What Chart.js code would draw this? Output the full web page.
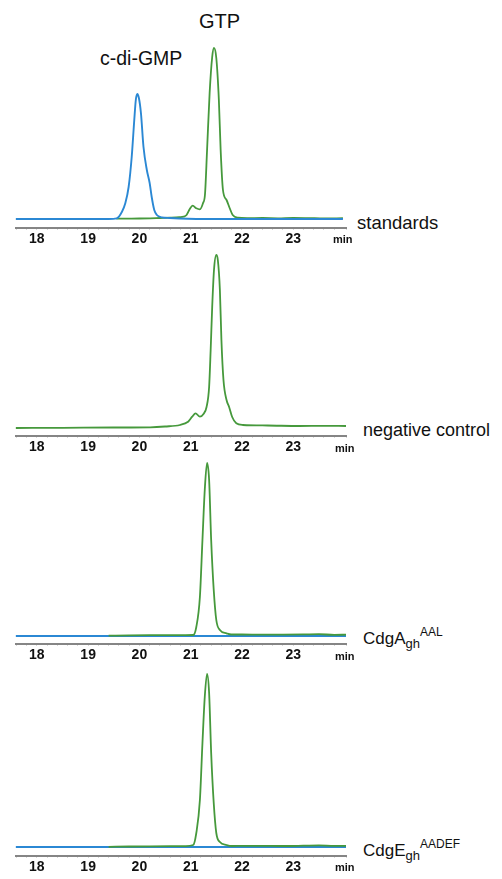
<!DOCTYPE html>
<html>
<head>
<meta charset="utf-8">
<script src="https://cdn.jsdelivr.net/npm/chart.js@4/dist/chart.umd.min.js"></script>
<style>
  body { margin: 0; background: #fff; width: 502px; height: 879px; position: relative; overflow: hidden;
         font-family: "Liberation Sans", Arial, sans-serif; color: #111; }
  canvas { position: absolute; left: 15px; }
  .lbl { position: absolute; white-space: nowrap; line-height: 1; }
  .min { position: absolute; font-size: 11px; font-weight: bold; line-height: 1; }
  .sub { font-size: 13px; position: relative; top: 4px; }
  .sup { font-size: 12px; position: relative; top: -8px; }
</style>
</head>
<body>
<div class="lbl" style="left:199px; top:11px; font-size:20px;">GTP</div>
<div class="lbl" style="left:100px; top:49px; font-size:19.5px;">c-di-GMP</div>

<canvas id="chart1" width="332" height="208" style="top:44px"></canvas>
<canvas id="chart2" width="332" height="208" style="top:252px"></canvas>
<canvas id="chart3" width="332" height="208" style="top:460px"></canvas>
<canvas id="chart4" width="332" height="208" style="top:672px"></canvas>

<div class="lbl" style="left:357px; top:214px; font-size:18.5px;">standards</div>
<div class="lbl" style="left:363px; top:421px; font-size:18px;">negative control</div>
<div class="lbl" style="left:363px; top:630px; font-size:17px;">CdgA<span class="sub">gh</span><span class="sup">AAL</span></div>
<div class="lbl" style="left:363px; top:842px; font-size:17px;">CdgE<span class="sub">gh</span><span class="sup">AADEF</span></div>

<div class="min" style="left:333px; top:234px;">min</div>
<div class="min" style="left:335px; top:443px;">min</div>
<div class="min" style="left:335px; top:651px;">min</div>
<div class="min" style="left:335px; top:862px;">min</div>

<script>
//------------------------------ data (retention time in min, signal above baseline) -----------------

// panel 1, standards
const stdCdgTime   = [17.59, 19.40, 19.56, 19.66, 19.725, 19.79, 19.85, 19.90, 19.93, 19.96, 19.99, 20.03, 20.08, 20.145, 20.20, 20.24, 20.29, 20.34, 20.44, 20.59, 20.78, 21.5, 22.5, 23.97];
const stdCdgSignal = [0, 0, 0.7, 7.3, 15.7, 32, 62, 99, 119, 125, 121, 106, 72, 49, 36, 22, 9, 4, 1.7, 1, 0.5, 0, 0, 0];

const stdGtpTime   = [19.55, 19.8, 20.0, 20.21, 20.40, 20.60, 20.78, 20.86, 20.92, 20.98, 21.04, 21.11, 21.18, 21.24, 21.28, 21.32, 21.37, 21.42, 21.455, 21.50, 21.55, 21.585, 21.63, 21.70, 21.76, 21.82, 21.92, 22.1, 22.4, 22.7, 23.0, 23.3, 23.6, 23.97];
const stdGtpSignal = [0.3, 0.4, 0.5, 0.7, 1.0, 1.3, 1.8, 2.3, 4.0, 9.7, 13.3, 10.7, 9.7, 15.7, 25, 69, 126, 162, 171, 161, 119, 69, 29, 19, 11, 4, 1.3, 0.8, 1.0, 0.7, 1.1, 0.9, 0.6, 0.8];

// panel 2, negative control
const negTime   = [17.59, 18.5, 19.5, 20.21, 20.5, 20.79, 20.95, 21.03, 21.095, 21.18, 21.25, 21.31, 21.36, 21.39, 21.42, 21.455, 21.50, 21.53, 21.57, 21.60, 21.64, 21.70, 21.75, 21.81, 21.89, 22.02, 22.5, 23.12, 23.6, 24.03];
const negSignal = [0, 0.2, 0.5, 0.7, 1.5, 3, 6.3, 11.3, 14.7, 11.3, 14, 21, 41, 78, 121, 158, 173, 168, 138, 88, 48, 28, 21, 11, 4.7, 3, 2.5, 2, 2.2, 2];

// panel 3, CdgA
const cdgAGreenTime   = [19.4, 19.8, 20.2, 20.6, 20.9, 21.05, 21.11, 21.18, 21.23, 21.275, 21.32, 21.36, 21.40, 21.45, 21.50, 21.57, 21.70, 21.79, 22.0, 22.4, 22.8, 23.2, 23.5, 23.8, 24.03];
const cdgAGreenSignal = [0.3, 0.6, 0.8, 0.9, 0.9, 1, 9, 39, 96, 146, 173, 156, 96, 46, 16, 6, 2.7, 1.5, 1.5, 1.3, 1.4, 1.6, 1.8, 1.2, 1.3];
const cdgABlueTime    = [17.59, 24.03];
const cdgABlueSignal  = [0, 0];

// panel 4, CdgE
const cdgEGreenTime   = [19.4, 19.8, 20.2, 20.6, 20.9, 21.05, 21.11, 21.18, 21.23, 21.275, 21.32, 21.36, 21.40, 21.45, 21.50, 21.57, 21.70, 21.80, 22.0, 22.4, 22.8, 23.2, 23.5, 23.8, 24.03];
const cdgEGreenSignal = [0.2, 0.5, 0.7, 0.8, 0.9, 2, 14, 47, 104, 150, 173, 154, 94, 44, 14, 5, 2, 1, 1.2, 1.1, 1.0, 1.3, 1.6, 1.1, 1.2];
const cdgEBlueTime    = [17.59, 24.03];
const cdgEBlueSignal  = [0, 0];

const BLUE = '#2b88d4';
const GREEN = '#46993c';

function pts(t, v) {
    return t.map((x, i) => ({ x: x, y: v[i] }));
}

function trace(t, v, color, order, width) {
    return {
        data: pts(t, v),
        borderColor: color,
        borderWidth: width,
        pointRadius: 0,
        cubicInterpolationMode: 'monotone',
        clip: false,
        order: order
    };
}

function makeChart(id, datasets, yMin, yMax) {
    return new Chart(document.getElementById(id), {
        type: 'line',
        data: { datasets: datasets },
        options: {
            responsive: false,
            animation: false,
            events: [],
            devicePixelRatio: 1,
            layout: { padding: 0 },
            plugins: { legend: { display: false }, tooltip: { enabled: false } },
            scales: {
                x: {
                    type: 'linear',
                    min: 17.593,
                    max: 24.03,
                    border: { color: '#858585', width: 2 },
                    grid: { drawOnChartArea: false, tickLength: 2, color: '#d8d8d8' },
                    ticks: {
                        stepSize: 0.2,
                        autoSkip: false,
                        maxRotation: 0,
                        padding: 1,
                        color: '#111',
                        font: { family: '"Liberation Sans", Arial', size: 14, weight: 'bold' },
                        callback: v => Math.abs(v - Math.round(v)) < 1e-6 ? Math.round(v) : ''
                    },
                    afterFit: s => { s.height = 24; }
                },
                y: { display: false, min: yMin, max: yMax }
            }
        }
    });
}

makeChart('chart1', [
    trace(stdCdgTime, stdCdgSignal, BLUE, 0, 1.9),
    trace(stdGtpTime, stdGtpSignal, GREEN, 1, 1.8)
], -9, 175);

makeChart('chart2', [
    trace(negTime, negSignal, GREEN, 0, 1.8)
], -8, 176);

makeChart('chart3', [
    trace(cdgABlueTime, cdgABlueSignal, BLUE, 1, 1.8),
    trace(cdgAGreenTime, cdgAGreenSignal, GREEN, 0, 1.8)
], -8, 176);

makeChart('chart4', [
    trace(cdgEBlueTime, cdgEBlueSignal, BLUE, 1, 1.8),
    trace(cdgEGreenTime, cdgEGreenSignal, GREEN, 0, 1.8)
], -9, 175);
</script>
</body>
</html>
